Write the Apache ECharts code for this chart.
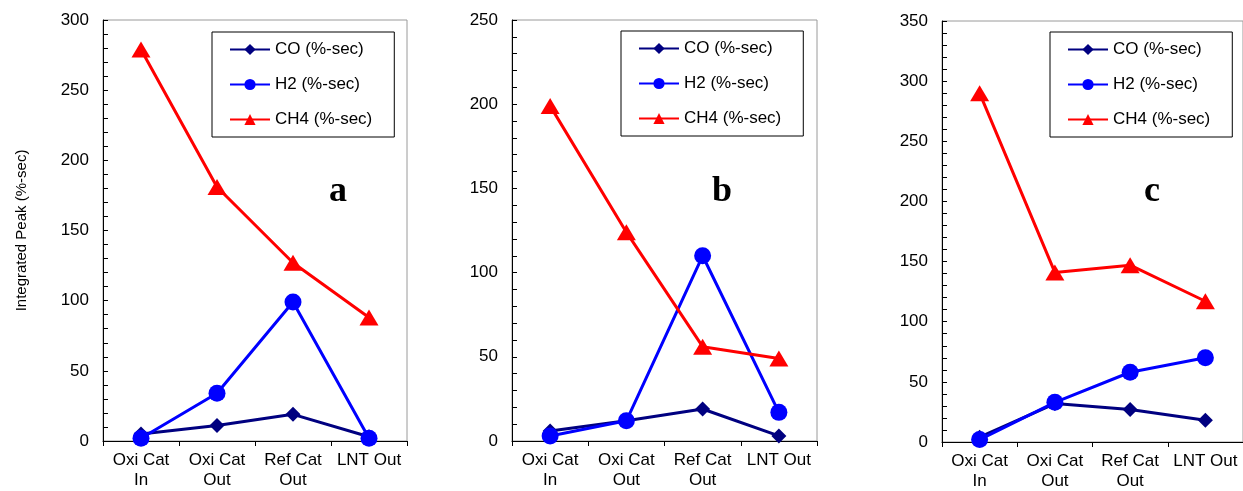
<!DOCTYPE html>
<html>
<head>
<meta charset="utf-8">
<script src="https://cdn.jsdelivr.net/npm/echarts@6/dist/echarts.min.js"></script>
<style>
  html, body { margin: 0; padding: 0; background: #fff; }
  #chart { width: 1243px; height: 491px; }
</style>
</head>
<body>
<div id="chart"></div>
<script>
const categories = ['Oxi Cat\nIn', 'Oxi Cat\nOut', 'Ref Cat\nOut', 'LNT Out'];
const seriesNames = ['CO (%-sec)', 'H2 (%-sec)', 'CH4 (%-sec)'];
const panelLetters = ['a', 'b', 'c'];
const yMax = [300, 250, 350];

// panel a
const coA = [5, 11, 19, 3];
const h2A = [2, 34, 99, 2];
const ch4A = [279, 181, 127, 88];
// panel b
const coB = [6, 12, 19, 3];
const h2B = [3, 12, 110, 17];
const ch4B = [199, 124, 56, 49];
// panel c
const coC = [4, 32, 27, 18];
const h2C = [2, 33, 58, 70];
const ch4C = [290, 141, 147, 117];

const panels = [[coA, h2A, ch4A], [coB, h2B, ch4B], [coC, h2C, ch4C]];

const FONT = 'Liberation Sans, Arial, sans-serif';
const colors = ['#000080', '#0000FF', '#FF0000'];
const symbols = ['diamond', 'circle', 'triangle'];
const symbolSizes = [15, 17, [19, 16]];

const grids = [
  { left: 103, top: 20, width: 304, height: 421 },
  { left: 512, top: 20, width: 305, height: 421 },
  { left: 942, top: 21, width: 304, height: 421 }
];
const legendPos = [
  { left: 212, top: 32 },
  { left: 621, top: 31 },
  { left: 1050, top: 32 }
];
const letterPos = [
  { x: 338, y: 192 },
  { x: 722, y: 192 },
  { x: 1152, y: 192 }
];

const option = {
  animation: false,
  textStyle: { fontFamily: FONT },
  grid: grids.map(g => ({
    ...g,
    show: true,
    borderColor: '#9a9a9a',
    borderWidth: 1,
    backgroundColor: 'transparent'
  })),
  xAxis: grids.map((g, i) => ({
    type: 'category',
    gridIndex: i,
    data: categories,
    boundaryGap: true,
    axisLine: { lineStyle: { color: '#000', width: 1 } },
    axisTick: { show: true, length: 5, lineStyle: { color: '#000' } },
    axisLabel: {
      interval: 0,
      color: '#000',
      fontSize: 17,
      lineHeight: 20,
      margin: 9,
      fontFamily: FONT
    }
  })),
  yAxis: grids.map((g, i) => ({
    type: 'value',
    gridIndex: i,
    min: 0,
    max: yMax[i],
    interval: 50,
    name: i === 0 ? 'Integrated Peak (%-sec)' : '',
    nameLocation: 'middle',
    nameGap: 74,
    nameTextStyle: { fontSize: 15, color: '#000', fontFamily: FONT },
    axisLine: { show: true, lineStyle: { color: '#000', width: 1 } },
    axisTick: { show: true, inside: true, length: 5, lineStyle: { color: '#000' } },
    minorTick: { show: true, splitNumber: 5, length: 5, lineStyle: { color: '#000' } },
    splitLine: { show: false },
    axisLabel: { color: '#000', fontSize: 17, margin: 14, fontFamily: FONT }
  })),
  legend: legendPos.map(p => ({
    ...p,
    orient: 'vertical',
    data: seriesNames,
    backgroundColor: '#fff',
    borderColor: '#000',
    borderWidth: 1,
    padding: [9, 22, 9, 17],
    itemWidth: 40,
    itemHeight: 14,
    itemGap: 18,
    selectedMode: false,
    textStyle: { fontSize: 17, color: '#000', lineHeight: 16, fontFamily: FONT }
  })),
  graphic: letterPos.map((p, i) => ({
    type: 'text',
    x: p.x,
    y: p.y,
    z: 100,
    style: {
      text: panelLetters[i],
      font: 'bold 36px "Liberation Serif", "Times New Roman", serif',
      fill: '#000',
      align: 'center',
      verticalAlign: 'middle'
    }
  })),
  series: []
};

panels.forEach((data, p) => {
  data.forEach((values, s) => {
    option.series.push({
      name: seriesNames[s],
      type: 'line',
      xAxisIndex: p,
      yAxisIndex: p,
      data: values,
      symbol: symbols[s],
      symbolSize: symbolSizes[s],
      color: colors[s],
      lineStyle: { color: colors[s], width: 3 },
      itemStyle: { color: colors[s] },
      z: 2 + s
    });
  });
});

const chart = echarts.init(document.getElementById('chart'));
chart.setOption(option);
</script>
</body>
</html>
